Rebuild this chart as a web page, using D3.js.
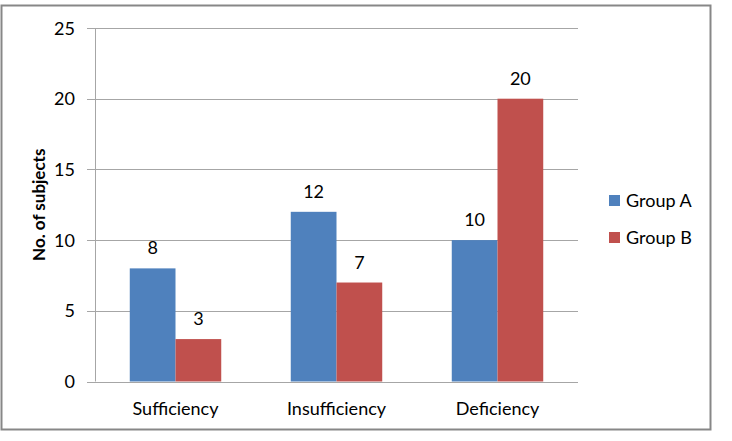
<!DOCTYPE html>
<html lang="en">
<head>
  <meta charset="UTF-8">
  <script src="https://d3js.org/d3.v7.min.js"></script>
  <title>No. of subjects</title>
  <style>
    body { margin: 0; background: #fff; }
    text { font-family: Lato, "Open Sans", sans-serif; fill: #000; }
  </style>
</head>
<body>
  <svg id="svgWrapper" width="732" height="441"></svg>
  <script>
    const categories = ['Sufficiency', 'Insufficiency', 'Deficiency'];
    const seriesNames = ['Group A', 'Group B'];
    const groupA = [8, 12, 10];
    const groupB = [3, 7, 20];
    const yTicks = [0, 5, 10, 15, 20, 25];
    const colors = ['#4F81BD', '#C0504D'];

    const svgEl = d3.select('#svgWrapper');

    // outer frame
    svgEl.append('rect')
      .attr('x', 1.5).attr('y', 5.5)
      .attr('width', 709).attr('height', 424)
      .attr('fill', 'none')
      .attr('stroke', '#878787')
      .attr('stroke-width', 2);

    const plotL = 95, plotR = 578, plotT = 28, plotB = 381.5;

    const x = d3.scaleBand().domain(categories).range([plotL, plotR]).paddingInner(0).paddingOuter(0);
    const y = d3.scaleLinear().domain([0, 25]).range([plotB, plotT]);
    const xs = d3.scaleBand().domain(seriesNames).range([0, x.bandwidth()]).paddingInner(0).paddingOuter(0.76);

    // gridlines + ticks
    svgEl.append('g')
      .selectAll('line')
      .data(yTicks)
      .enter()
      .append('line')
      .attr('x1', plotL - 8).attr('x2', plotR)
      .attr('y1', d => Math.round(y(d)) + 0.5)
      .attr('y2', d => Math.round(y(d)) + 0.5)
      .attr('stroke', '#a6a6a6')
      .attr('stroke-width', 1);

    svgEl.append('g')
      .selectAll('text')
      .data(yTicks)
      .enter()
      .append('text')
      .attr('x', 75)
      .attr('y', d => y(d) + 6.5)
      .attr('text-anchor', 'end')
      .attr('font-size', 18)
      .text(d => d);

    // bars
    const rows = categories.map((c, i) => ({ cat: c, vals: [groupA[i], groupB[i]] }));
    const groups = svgEl.selectAll('g.cat')
      .data(rows)
      .enter()
      .append('g')
      .attr('class', 'cat')
      .attr('transform', d => `translate(${x(d.cat)},0)`);

    groups.selectAll('rect')
      .data(d => d.vals.map((v, j) => ({ name: seriesNames[j], v, j })))
      .enter()
      .append('rect')
      .attr('x', d => xs(d.name))
      .attr('width', xs.bandwidth())
      .attr('y', d => y(d.v))
      .attr('height', d => y(0) - y(d.v))
      .attr('fill', d => colors[d.j]);

    groups.selectAll('text')
      .data(d => d.vals.map((v, j) => ({ name: seriesNames[j], v, j })))
      .enter()
      .append('text')
      .attr('x', d => xs(d.name) + xs.bandwidth() / 2)
      .attr('y', d => y(d.v) - 14)
      .attr('text-anchor', 'middle')
      .attr('font-size', 18)
      .text(d => d.v);

    // y axis line
    svgEl.append('line')
      .attr('x1', plotL + 0.5).attr('x2', plotL + 0.5)
      .attr('y1', plotT).attr('y2', plotB)
      .attr('stroke', '#a6a6a6');

    // category labels
    svgEl.append('g')
      .selectAll('text')
      .data(categories)
      .enter()
      .append('text')
      .attr('x', d => x(d) + x.bandwidth() / 2)
      .attr('y', 415)
      .attr('text-anchor', 'middle')
      .attr('font-size', 18)
      .text(d => d);

    // y title
    svgEl.append('text')
      .attr('transform', `translate(45,${(plotT + plotB) / 2}) rotate(-90)`)
      .attr('text-anchor', 'middle')
      .attr('font-size', 17)
      .attr('font-weight', 'bold')
      .text('No. of subjects');

    // legend
    const legend = svgEl.selectAll('g.legend')
      .data(seriesNames)
      .enter()
      .append('g')
      .attr('class', 'legend')
      .attr('transform', (d, i) => `translate(609,${195 + i * 37})`);

    legend.append('rect')
      .attr('width', 11).attr('height', 11)
      .attr('fill', (d, i) => colors[i]);

    legend.append('text')
      .attr('x', 17)
      .attr('y', 12)
      .attr('font-size', 18)
      .text(d => d);
  </script>
</body>
</html>
